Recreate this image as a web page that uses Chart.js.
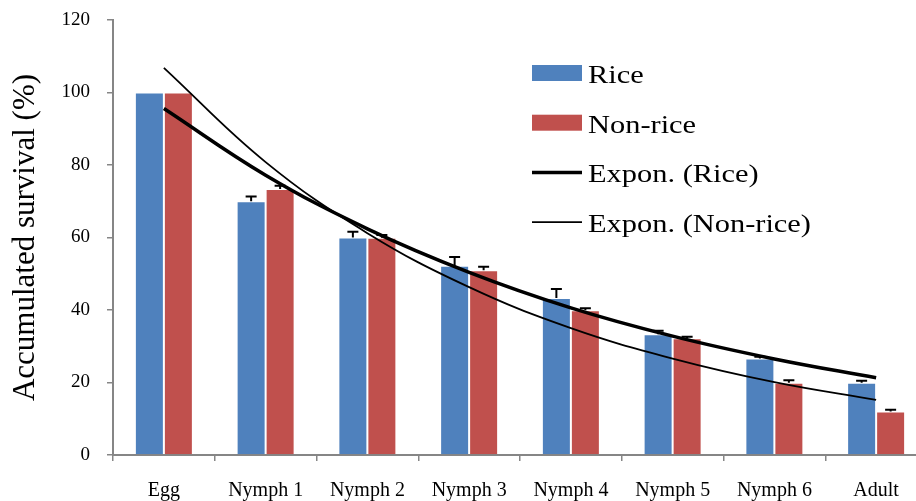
<!DOCTYPE html>
<html>
<head>
<meta charset="utf-8">
<script src="https://cdn.jsdelivr.net/npm/chart.js@4.4.0/dist/chart.umd.min.js"></script>
<style>
body { margin: 0; background: #fff; width: 916px; height: 501px; overflow: hidden; }
#wrap { position: relative; width: 930px; height: 501px; }
</style>
</head>
<body>
<div id="wrap"><canvas id="mycanvas"></canvas></div>
<script>
var stages = ['Egg', 'Nymph 1', 'Nymph 2', 'Nymph 3', 'Nymph 4', 'Nymph 5', 'Nymph 6', 'Adult'];
var rice = [100, 70, 60, 52.2, 43.3, 33.3, 26.6, 19.9];
var nonRice = [100, 73.4, 59.9, 51, 39.9, 32.2, 19.9, 12];
var riceErr = [0, 1.3, 1.6, 2.4, 2.5, 1.0, 0.5, 0.6];
var nonRiceErr = [0, 0.9, 0.8, 0.9, 0.6, 0.4, 0.7, 0.5];
// trend lines at each stage
var riceTrend = [95.6, 77.2, 62.4, 50.4, 40.6, 32.8, 26.5, 21.3];
var nonRiceTrend = [106.8, 80.8, 61.2, 46.3, 35.0, 26.6, 20.1, 15.2];
var yTicks = [0, 20, 40, 60, 80, 100, 120];

var serif = '"Liberation Serif", "Times New Roman", serif';
var axisGrey = '#868686';

// error bars (upper only)
var errorBars = {
	id: 'errorBars',
	afterDatasetsDraw: function(chart){
		var ctx = chart.ctx;
		var y = chart.scales.y;
		ctx.save();
		ctx.strokeStyle = '#000';
		ctx.lineWidth = 2;
		[0, 1].forEach(function(d){
			var errs = d == 0 ? riceErr : nonRiceErr;
			var meta = chart.getDatasetMeta(d);
			meta.data.forEach(function(bar, i){
				if (!errs[i]) return;
				var v = chart.data.datasets[d].data[i];
				var yTop = y.getPixelForValue(v + errs[i]);
				ctx.beginPath();
				ctx.moveTo(bar.x, bar.y);
				ctx.lineTo(bar.x, yTop);
				ctx.moveTo(bar.x - 5.5, yTop);
				ctx.lineTo(bar.x + 5.5, yTop);
				ctx.stroke();
			});
		});
		ctx.restore();
	}
};

// legend drawn inside the plot
var boxLegend = {
	id: 'boxLegend',
	afterDraw: function(chart){
		var ctx = chart.ctx;
		var items = [
			{text: 'Rice', type: 'box', color: '#4F81BD'},
			{text: 'Non-rice', type: 'box', color: '#C0504D'},
			{text: 'Expon. (Rice)', type: 'line', width: 3.5},
			{text: 'Expon. (Non-rice)', type: 'line', width: 1.8}
		];
		var x0 = 532, yy = 73, step = 49.7;
		ctx.save();
		items.forEach(function(it, i){
			var cy = yy + i * step;
			if (it.type == 'box') {
				ctx.fillStyle = it.color;
				ctx.fillRect(x0, cy - 8, 50, 16);
			} else {
				ctx.strokeStyle = '#000';
				ctx.lineWidth = it.width;
				ctx.beginPath();
				ctx.moveTo(x0, cy);
				ctx.lineTo(x0 + 50, cy);
				ctx.stroke();
			}
			ctx.save();
			ctx.translate(x0 + 56, cy + 10);
			ctx.scale(1.17, 1);
			ctx.fillStyle = '#000';
			ctx.font = '26px ' + serif;
			ctx.textBaseline = 'alphabetic';
			ctx.fillText(it.text, 0, 0);
			ctx.restore();
		});
		ctx.restore();
	}
};

var chartdata = {
	labels: stages,
	datasets: [
		{
			label: 'Rice',
			data: rice,
			backgroundColor: '#4F81BD',
			borderColor: 'rgba(255,255,255,0.2)',
			borderWidth: 1,
			order: 2
		},
		{
			label: 'Non-rice',
			data: nonRice,
			backgroundColor: '#C0504D',
			borderColor: 'rgba(255,255,255,0.2)',
			borderWidth: 1,
			order: 2
		},
		{
			type: 'line',
			label: 'Expon. (Rice)',
			data: riceTrend,
			borderColor: '#000',
			borderWidth: 3.5,
			pointRadius: 0,
			tension: 0.4,
			fill: false,
			order: 1
		},
		{
			type: 'line',
			label: 'Expon. (Non-rice)',
			data: nonRiceTrend,
			borderColor: '#000',
			borderWidth: 1.8,
			pointRadius: 0,
			tension: 0.4,
			fill: false,
			order: 1
		}
	]
};

var ctx = document.getElementById('mycanvas');
var barGraph = new Chart(ctx, {
	type: 'bar',
	data: chartdata,
	plugins: [errorBars, boxLegend],
	options: {
		responsive: true,
		maintainAspectRatio: false,
		animation: false,
		layout: { padding: { top: 20, right: 3, left: 0, bottom: 0 } },
		datasets: { bar: { categoryPercentage: 0.57, barPercentage: 1 } },
		plugins: { legend: { display: false }, tooltip: { enabled: false } },
		scales: {
			x: {
				grid: { offset: true, drawOnChartArea: false, color: axisGrey, tickLength: 6, lineWidth: 1.5 },
				border: { color: axisGrey, width: 2 },
				ticks: { color: '#000', font: { family: serif, size: 20 }, padding: 18, maxRotation: 0, autoSkip: false },
				afterFit: function(scale){ scale.height = 46; }
			},
			y: {
				min: 0,
				max: 120,
				afterBuildTicks: function(scale){
					scale.ticks = yTicks.map(function(v){ return {value: v}; });
				},
				grid: { drawOnChartArea: false, color: axisGrey, tickLength: 6, lineWidth: 1.5 },
				border: { color: axisGrey, width: 2 },
				ticks: { color: '#000', font: { family: serif, size: 19, lineHeight: 0.3 }, padding: 17 },
				title: { display: true, text: 'Accumulated survival (%)', color: '#000', font: { family: serif, size: 31 }, padding: { top: 7, bottom: 0 } },
				afterFit: function(scale){ scale.width = 113; }
			}
		}
	}
});
</script>
</body>
</html>
